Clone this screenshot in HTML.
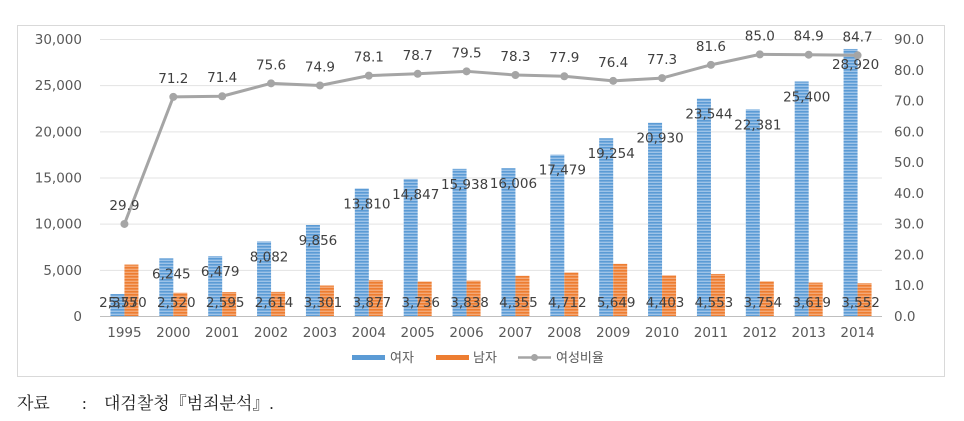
<!DOCTYPE html>
<html><head><meta charset="utf-8"><style>
body{margin:0;background:#fff;width:964px;height:417px;overflow:hidden;font-family:"DejaVu Sans","Noto Sans CJK KR",sans-serif}
svg text{font-family:"DejaVu Sans","Noto Sans CJK KR",sans-serif}
</style></head><body>
<svg id="chart" width="964" height="417" xmlns="http://www.w3.org/2000/svg">
<defs>
<pattern id="pb" width="4" height="3" patternUnits="userSpaceOnUse"><rect width="4" height="3" fill="#9dc3e8"/><rect width="4" height="1.6" fill="#5b9bd5"/></pattern>
<pattern id="po" width="4" height="3" patternUnits="userSpaceOnUse"><rect width="4" height="3" fill="#f4a876"/><rect width="4" height="1.6" fill="#ed7d31"/></pattern>
</defs>
<rect x="17.5" y="25.5" width="927" height="351" fill="#fff" stroke="#d9d9d9"/>
<g id="grid"></g><g id="bars"></g><g id="line"></g><g id="labels"></g>
<g>
<rect x="352" y="355" width="33" height="5" fill="#5b9bd5"/>
<text x="390" y="362" font-size="13" fill="#595959">여자</text>
<rect x="436" y="355" width="33" height="5" fill="#ed7d31"/>
<text x="473" y="362" font-size="13" fill="#595959">남자</text>
<line x1="518" y1="357.5" x2="551" y2="357.5" stroke="#a5a5a5" stroke-width="2.5"/>
<circle cx="534.5" cy="357.5" r="3.5" fill="#a5a5a5"/>
<text x="556" y="362" font-size="13" fill="#595959">여성비율</text>
</g>
<text x="17" y="409" font-size="17" fill="#222" style="font-family:'Liberation Serif','Noto Serif CJK SC',serif">자료<tspan x="82">:</tspan><tspan x="104">대검찰청『범죄분석』.</tspan></text>
</svg>
<script>
const years=['1995','2000','2001','2002','2003','2004','2005','2006','2007','2008','2009','2010','2011','2012','2013','2014'];
const female=[2375,6245,6479,8082,9856,13810,14847,15938,16006,17479,19254,20930,23544,22381,25400,28920];
const male=[5570,2520,2595,2614,3301,3877,3736,3838,4355,4712,5649,4403,4553,3754,3619,3552];
const ratio=[29.9,71.2,71.4,75.6,74.9,78.1,78.7,79.5,78.3,77.9,76.4,77.3,81.6,85.0,84.9,84.7];
const leftTicks=[0,5000,10000,15000,20000,25000,30000];
const rightTicks=[0,10,20,30,40,50,60,70,80,90];
const NS='http://www.w3.org/2000/svg';
const L=100,R=882,T=39,B=316,band=(R-L)/years.length;
const yL=v=>B-(v/30000)*(B-T);
const yR=v=>B-(v/90)*(B-T);
const xc=i=>L+band*(i+0.5);
const fmt=v=>v.toLocaleString('en-US');
const FS=13.5;
function mk(tag,attrs,parent,txt){const e=document.createElementNS(NS,tag);for(const k in attrs)e.setAttribute(k,attrs[k]);if(txt!==undefined)e.textContent=txt;document.getElementById(parent).appendChild(e);return e;}
leftTicks.forEach(v=>{
 const g=mk('line',{x1:L,x2:R,y1:yL(v)+.5,y2:yL(v)+.5,stroke:v===0?'#bfbfbf':'#e3e3e3'},'grid');
 
 
 const t=mk('text',{x:82,y:yL(v)+5,'text-anchor':'end','font-size':FS,fill:'#595959'},'grid',fmt(v));
 
 
});
rightTicks.forEach(v=>{
 const t=mk('text',{x:894,y:yR(v)+5,'font-size':FS,fill:'#595959'},'grid',v.toFixed(1));
 
 
});
years.forEach((y,i)=>{
 const x=xc(i),w=14;
 const t=mk('text',{x:x,y:337,'text-anchor':'middle','font-size':FS,fill:'#595959'},'grid',y);
 
 
 const bf=mk('rect',{x:x-w,y:yL(female[i]),width:w,height:B-yL(female[i]),fill:'url(#pb)'},'bars');
 
 
 const bm=mk('rect',{x:x,y:yL(male[i]),width:w,height:B-yL(male[i]),fill:'url(#po)'},'bars');
 
 
 const ml=mk('text',{x:x+3,y:307,'text-anchor':'middle','font-size':FS,fill:'#404040'},'labels',fmt(male[i]));
 
 
 let fy=yL(female[i])+20; if(i===0) fy=307;
 const fl=mk('text',{x:i===0?x-6:x-2,y:fy,'text-anchor':'middle','font-size':FS,fill:'#404040'},'labels',fmt(female[i]));
 
 
});
const pts=ratio.map((v,i)=>xc(i)+','+yR(v)).join(' ');
const pl=mk('polyline',{points:pts,fill:'none',stroke:'#a5a5a5','stroke-width':3,'stroke-linejoin':'round'},'line');


ratio.forEach((v,i)=>{
 const c=mk('circle',{cx:xc(i),cy:yR(v),r:4,fill:'#a5a5a5'},'line');
 
 
 const t=mk('text',{x:xc(i),y:yR(v)-14,'text-anchor':'middle','font-size':FS,fill:'#404040'},'labels',v.toFixed(1));
 
 
});
</script>
</body></html>
